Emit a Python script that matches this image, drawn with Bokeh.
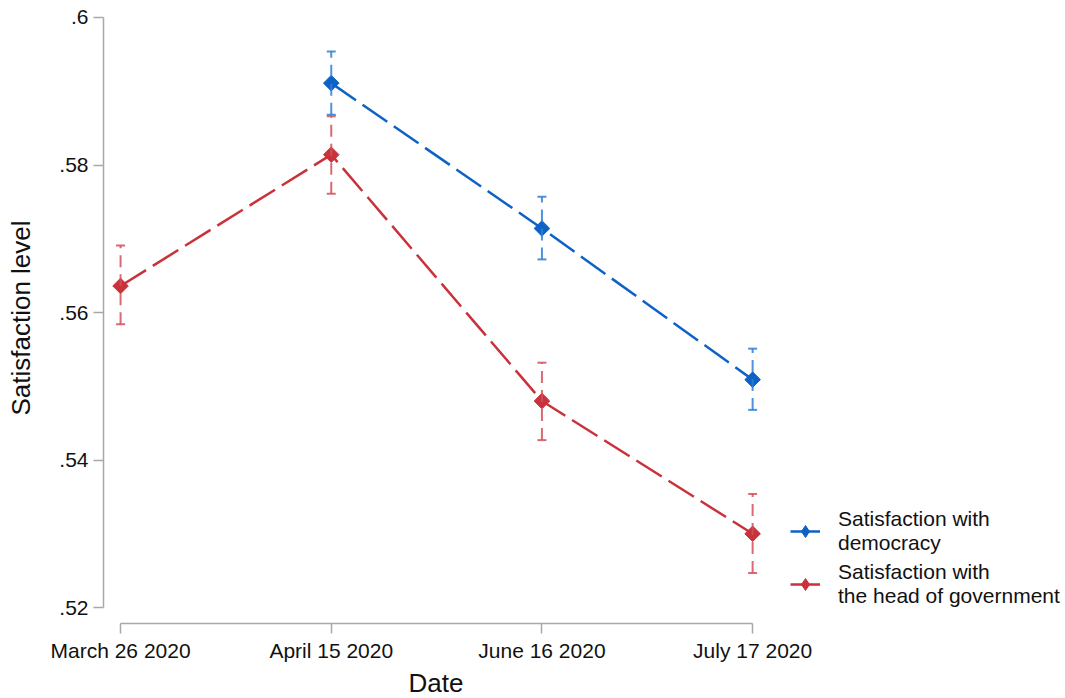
import numpy as np
from bokeh.plotting import figure
from bokeh.models import (ColumnDataSource, Whisker, TeeHead, Legend, LegendItem,
                          FixedTicker, CustomJSTickFormatter, Range1d, Title)
from bokeh.embed import file_html
from bokeh.resources import INLINE

# ---- data ----
dates = ["March 26 2020", "April 15 2020", "June 16 2020", "July 17 2020"]

demo_dates = ["April 15 2020", "June 16 2020", "July 17 2020"]
demo_mean = [0.5911, 0.5714, 0.5509]
demo_lo = [0.5868, 0.5672, 0.5468]
demo_hi = [0.5954, 0.5757, 0.5551]

gov_dates = ["March 26 2020", "April 15 2020", "June 16 2020", "July 17 2020"]
gov_mean = [0.5636, 0.5814, 0.5480, 0.5300]
gov_lo = [0.5584, 0.5761, 0.5427, 0.5247]
gov_hi = [0.5691, 0.5866, 0.5532, 0.5354]

y_ticks = [0.52, 0.54, 0.56, 0.58, 0.60]

series_labels = ["Satisfaction with\ndemocracy", "Satisfaction with\nthe head of government"]
x_title = "Date"
y_title = "Satisfaction level"

# ---- styles ----
BLUE = "#0d62c6"
RED = "#c9323a"
BLUE_CI = "#2f7fd6"
RED_CI = "#d2505a"
FONT = "Liberation Sans"
AXIS_COL = "#a8a8a8"

pos = {d: i for i, d in enumerate(dates)}

demo_src = ColumnDataSource(dict(x=[pos[d] for d in demo_dates], y=demo_mean,
                                 lo=demo_lo, hi=demo_hi))
gov_src = ColumnDataSource(dict(x=[pos[d] for d in gov_dates], y=gov_mean,
                                lo=gov_lo, hi=gov_hi))

W, H = 1065, 698
p = figure(width=W, height=H,
           x_range=Range1d(-0.081, 4.485),
           y_range=Range1d(0.517838, 0.600676),
           output_backend="svg", toolbar_location=None,
           min_border_top=12, min_border_left=103, min_border_right=0,
           min_border_bottom=0)
p.outline_line_color = None
p.xgrid.visible = False
p.ygrid.visible = False
p.background_fill_color = "white"
p.border_fill_color = "white"

# error bars
for src, c in ((gov_src, RED_CI), (demo_src, BLUE_CI)):
    w = Whisker(base="x", lower="lo", upper="hi", source=src, dimension="height",
                line_color=c, line_width=2, line_dash="12 7", line_alpha=0.85,
                upper_head=TeeHead(size=9, line_color=c, line_width=2, line_alpha=0.85),
                lower_head=TeeHead(size=9, line_color=c, line_width=2, line_alpha=0.85),
                level="glyph")
    p.add_layout(w)

# lines and markers
rends = {}
for key, src, c in (("gov", gov_src, RED), ("demo", demo_src, BLUE)):
    lr = p.line("x", "y", source=src, line_color=c, line_width=2.5, line_dash="30 8")
    sr = p.scatter("x", "y", source=src, marker="square", angle=np.pi / 4, size=11,
                   fill_color=c, line_color=c)
    # hidden renderer used only for the legend swatch (diamond)
    lg = p.scatter("x", "y", source=src, marker="diamond", size=12,
                   fill_color=c, line_color=c, visible=False)
    rends[key] = [lr, lg]

leg_items = [LegendItem(label=series_labels[0], renderers=rends["demo"]),
             LegendItem(label=series_labels[1], renderers=rends["gov"])]

legend = Legend(items=leg_items, location=(687, 15), margin=0, padding=0,
                border_line_color=None, background_fill_alpha=0,
                inactive_fill_alpha=0, click_policy="none",
                label_text_font=FONT, label_text_font_size="21px",
                label_text_color="#111111", label_text_line_height=0.95,
                glyph_width=30, glyph_height=36, label_standoff=18, spacing=5)
p.add_layout(legend, "center")

# axes
p.xaxis.ticker = FixedTicker(ticks=list(range(len(dates))))
p.xaxis.major_label_overrides = {i: d for i, d in enumerate(dates)}
p.xaxis.bounds = (0, len(dates) - 1)

p.yaxis.ticker = FixedTicker(ticks=y_ticks)
p.yaxis.formatter = CustomJSTickFormatter(
    code="return tick.toFixed(2).replace(/^0/, '').replace(/0$/, '');")
p.yaxis.bounds = (y_ticks[0], y_ticks[-1])
p.yaxis.axis_label = y_title

for ax in (p.xaxis[0], p.yaxis[0]):
    ax.axis_line_color = AXIS_COL
    ax.axis_line_width = 1.5
    ax.major_tick_line_color = AXIS_COL
    ax.major_tick_line_width = 1.5
    ax.major_tick_out = 10
    ax.major_tick_in = 0
    ax.minor_tick_line_color = None
    ax.major_label_text_font = FONT
    ax.major_label_text_font_size = "21px"
    ax.major_label_text_color = "#111111"
    ax.axis_label_text_font = FONT
    ax.axis_label_text_font_size = "26px"
    ax.axis_label_text_font_style = "normal"
    ax.axis_label_text_color = "#111111"

p.xaxis.major_label_standoff = 5
p.yaxis.major_label_standoff = 5
p.yaxis.axis_label_standoff = 20

# x-axis title centred under the axis span
xt = Title(text=x_title, align="left", offset=305, standoff=2,
           text_font=FONT, text_font_size="26px", text_font_style="normal",
           text_color="#111111")
p.add_layout(xt, "below")

open("out.html", "w").write(file_html(p, INLINE))
